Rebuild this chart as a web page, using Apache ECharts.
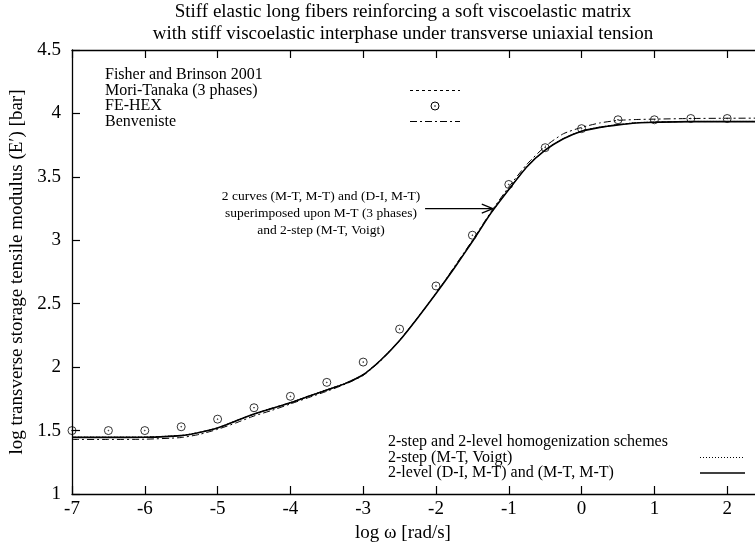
<!DOCTYPE html>
<html><head><meta charset="utf-8">
<script src="https://cdn.jsdelivr.net/npm/echarts@6/dist/echarts.min.js"></script>
<style>html,body{margin:0;padding:0;background:#fff}#c{width:755px;height:544px}</style>
</head><body><div id="c"></div>
<script>
// ---------- data ----------
const xCurve = [-7,-6.5,-6,-5.5,-5.25,-5,-4.75,-4.5,-4.25,-4,-3.75,-3.5,-3.25,-3,-2.75,-2.5,-2.25,-2,-1.75,-1.5,-1.25,-1,-0.75,-0.5,-0.25,0,0.25,0.5,0.75,1,1.5,2,2.5];
const twoLevel   = [1.446,1.446,1.447,1.46,1.485,1.52,1.575,1.63,1.675,1.72,1.77,1.82,1.87,1.94,2.06,2.21,2.39,2.58,2.78,2.99,3.21,3.40,3.58,3.71,3.80,3.86,3.89,3.91,3.925,3.93,3.935,3.935,3.935];
const twoStep    = [1.448,1.448,1.449,1.462,1.487,1.522,1.577,1.632,1.677,1.722,1.772,1.822,1.872,1.942,2.062,2.212,2.392,2.582,2.782,2.992,3.212,3.402,3.582,3.712,3.802,3.862,3.892,3.912,3.927,3.932,3.937,3.937,3.937];
const moriTanaka3= [1.447,1.447,1.448,1.461,1.486,1.521,1.576,1.631,1.676,1.721,1.771,1.821,1.871,1.941,2.061,2.211,2.391,2.581,2.781,2.991,3.211,3.401,3.581,3.711,3.801,3.861,3.891,3.911,3.926,3.931,3.936,3.936,3.936];
const benveniste = [1.43,1.43,1.432,1.445,1.47,1.51,1.56,1.615,1.66,1.71,1.76,1.81,1.865,1.935,2.055,2.21,2.39,2.58,2.79,3.0,3.22,3.42,3.60,3.74,3.84,3.89,3.925,3.945,3.952,3.955,3.96,3.962,3.963];
const feHexX = [-7,-6.5,-6,-5.5,-5,-4.5,-4,-3.5,-3,-2.5,-2,-1.5,-1,-0.5,0,0.5,1,1.5,2];
const feHexY = [1.50,1.50,1.50,1.53,1.59,1.68,1.77,1.88,2.04,2.30,2.64,3.04,3.44,3.73,3.88,3.95,3.95,3.96,3.96];

const titleLines = ['Stiff elastic long fibers reinforcing a soft viscoelastic matrix','with stiff viscoelastic interphase under transverse uniaxial tension'];
const xTitle = 'log ω [rad/s]';
const yTitle = 'log transverse storage tensile modulus (E′) [bar]';
const key1 = ['Fisher and Brinson 2001','Mori-Tanaka (3 phases)','FE-HEX','Benveniste'];
const key2 = ['2-step and 2-level homogenization schemes','2-step (M-T, Voigt)','2-level (D-I, M-T) and (M-T, M-T)'];
const noteLines = ['2 curves (M-T, M-T) and (D-I, M-T)','superimposed upon M-T (3 phases)','and 2-step (M-T, Voigt)'];
const arrowFrom = [-2.15, 3.25], arrowTo = [-1.22, 3.25];

// ---------- chart ----------
const FONT = 'Liberation Serif';
const FS_BIG = 19, FS_KEY = 16, FS_NOTE = 13.5;
const zip = (xs, ys) => xs.map((x, i) => [x, ys[i]]);
const chart = echarts.init(document.getElementById('c'), null, {renderer: 'canvas'});
const ringDot = 'path://M0,10a10,10 0 1,0 20,0a10,10 0 1,0 -20,0Z M9,10a1,1 0 1,0 2,0a1,1 0 1,0 -2,0Z';
const axLine = {onZero: false, lineStyle: {color: '#000', width: 1.3}};
const tick = {inside: true, length: 8, lineStyle: {color: '#000', width: 1.2}};
const lineSeries = (name, data, type, width) => ({
  name, type: 'line', data, showSymbol: false, smooth: 0.2,
  lineStyle: {color: '#000', width, type}, z: 3, silent: true
});

chart.setOption({
  animation: false,
  grid: {left: 72, top: 50, width: 9.5 * 72.8, height: 444, containLabel: false, outerBoundsMode: 'none'},
  xAxis: [
    {type: 'value', min: -7, max: 2.5, interval: 1, position: 'bottom',
     axisLine: axLine, axisTick: tick, splitLine: {show: false},
     axisLabel: {color: '#000', fontFamily: FONT, fontSize: FS_BIG, margin: 6,
       formatter: v => Number.isInteger(v) ? String(v) : ''}},
    {type: 'value', min: -7, max: 2.5, interval: 1, position: 'top',
     axisLine: axLine, axisTick: tick, splitLine: {show: false}, axisLabel: {show: false}}
  ],
  yAxis: [
    {type: 'value', min: 1, max: 4.5, interval: 0.5, position: 'left',
     axisLine: {show: true, ...axLine}, axisTick: tick, splitLine: {show: false},
     axisLabel: {color: '#000', fontFamily: FONT, fontSize: FS_BIG, margin: 11},
     name: yTitle, nameLocation: 'middle', nameGap: 42, nameRotate: 90,
     nameTextStyle: {color: '#000', fontFamily: FONT, fontSize: FS_BIG}}
  ],
  series: [
    lineSeries('Benveniste', zip(xCurve, benveniste), [7, 3, 2, 3], 1),
    lineSeries('Mori-Tanaka (3 phases)', zip(xCurve, moriTanaka3), [3, 3], 1),
    lineSeries('2-step (M-T, Voigt)', zip(xCurve, twoStep), [1, 2], 1),
    lineSeries('2-level', zip(xCurve, twoLevel), 'solid', 1.6),
    {name: 'FE-HEX', type: 'scatter', data: zip(feHexX, feHexY), symbol: ringDot, symbolSize: 8,
     itemStyle: {color: 'rgba(0,0,0,0)', borderColor: '#000', borderWidth: 1}, z: 4, silent: true}
  ]
});

// ---------- annotations / keys ----------
const txt = (text, x, y, size, align) => ({type: 'text', x, y, silent: true, z: 10,
  style: {text, fill: '#000', font: size + 'px "' + FONT + '"', textAlign: align || 'left', textVerticalAlign: 'middle'}});
const seg = (x1, y1, x2, y2, dash, w) => {
  const st = {stroke: '#000', lineWidth: w || 1};
  if (dash) st.lineDash = dash;
  return {type: 'line', silent: true, z: 10, shape: {x1, y1, x2, y2}, style: st};
};

const g = [];
g.push(txt(titleLines[0], 403, 12, FS_BIG, 'center'));
g.push(txt(titleLines[1], 403, 34, FS_BIG, 'center'));
g.push(txt(xTitle, 403, 533, FS_BIG, 'center'));
// top-left key
const k1y = [75, 90.5, 106, 121.5];
key1.forEach((t, i) => g.push(txt(t, 105, k1y[i], FS_KEY)));
g.push(seg(410, k1y[1], 460, k1y[1], [3, 3]));
g.push({type: 'circle', silent: true, z: 10, shape: {cx: 435, cy: k1y[2], r: 4}, style: {fill: 'none', stroke: '#000', lineWidth: 1}});
g.push({type: 'circle', silent: true, z: 10, shape: {cx: 435, cy: k1y[2], r: 0.8}, style: {fill: '#000'}});
g.push(seg(410, k1y[3], 460, k1y[3], [7, 3, 2, 3]));
// bottom-right key
const k2y = [442, 457.5, 473];
key2.forEach((t, i) => g.push(txt(t, 388, k2y[i], FS_KEY)));
g.push(seg(700, k2y[1], 745, k2y[1], [1, 2]));
g.push(seg(700, k2y[2], 745, k2y[2], null, 1.3));
// note
const nY = [196, 213, 230];
noteLines.forEach((t, i) => g.push(txt(t, 321, nY[i], FS_NOTE, 'center')));
const p0 = chart.convertToPixel({gridIndex: 0}, arrowFrom);
const p1 = chart.convertToPixel({gridIndex: 0}, arrowTo);
g.push(seg(p0[0], p0[1], p1[0], p1[1], null, 1.2));
g.push(seg(p1[0] - 11, p1[1] - 4.5, p1[0], p1[1], null, 1.2));
g.push(seg(p1[0] - 11, p1[1] + 4.5, p1[0], p1[1], null, 1.2));
chart.setOption({graphic: g});
</script></body></html>
